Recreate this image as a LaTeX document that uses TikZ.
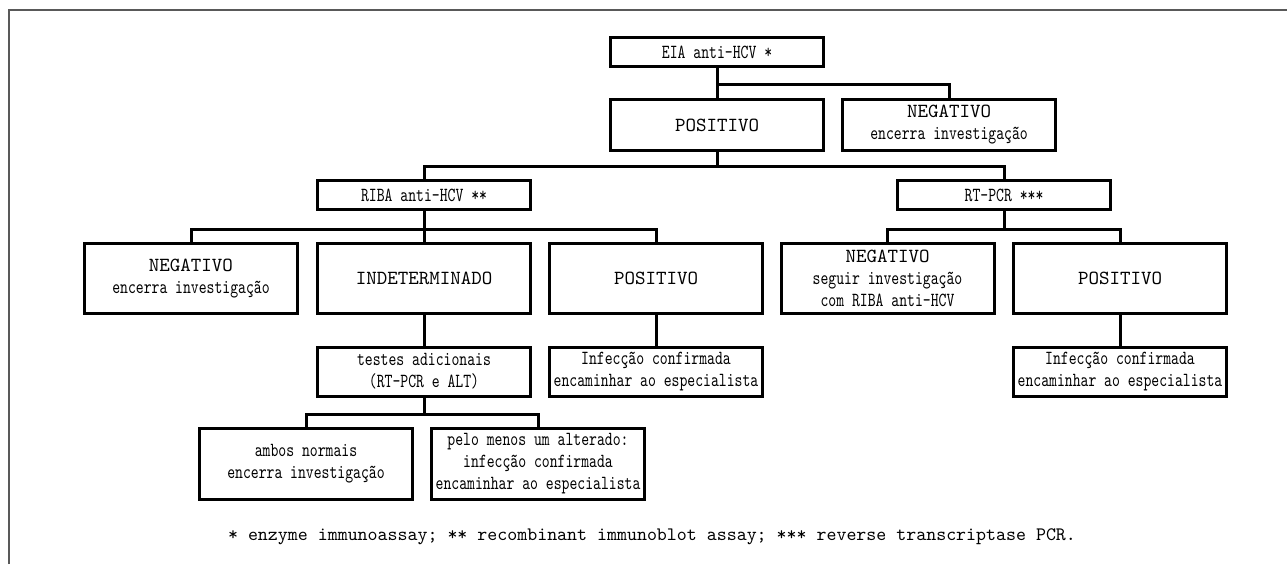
\documentclass[tikz,border=0pt]{standalone}
\usepackage{fontspec}
\setmainfont{lmmono10-regular.otf}
\newfontfamily\slimmono{lmmono10-regular.otf}[FakeStretch=0.75]

\begin{document}
\begin{tikzpicture}[x=0.5pt, y=-0.5pt,
  box/.style={draw, line width=1.5pt, minimum width=106.5pt, inner sep=0pt,
    align=center, font=\fontsize{10}{11}\selectfont},
  low/.style={box, minimum height=14.5pt},
  mid/.style={box, minimum height=25.5pt},
  half/.style={box, minimum height=24.5pt},
  high/.style={box, minimum height=35pt},
  link/.style={line width=1.5pt}]

  \useasboundingbox (0,0) rectangle (1287,564);

  % Outer frame
  \draw [black!65, line width=1pt] (9,564) -- (9,10) -- (1287,10);

  \node [low] (EIA) at (717,52) {\slimmono EIA anti-HCV *};
  \node [mid] (Pos) at (717,125) {POSITIVO};
  \node [mid] (Neg) at (949,125) {NEGATIVO\\\slimmono encerra investigação};

  \node [low] (Riba) at (424,195) {\slimmono RIBA anti-HCV **};
  \node [low] (RtPcr) at (1004,195) {\slimmono RT-PCR ***};

  \node [high] (RibaNeg) at (191,278.5) {NEGATIVO\\\slimmono encerra investigação};
  \node [high] (RibaInd) at (424,278.5) {INDETERMINADO};
  \node [high] (RibaPos) at (656,278.5) {POSITIVO};
  \node [high] (PcrNeg) at (887.5,278.5) {NEGATIVO\\\slimmono seguir investigação\\\slimmono com RIBA anti-HCV};
  \node [high] (PcrPos) at (1120,278.5) {POSITIVO};

  \node [half] (Extra) at (424,371.5) {\slimmono testes adicionais\\\slimmono (RT-PCR e ALT)};
  \node [half] (RibaConf) at (656,371.5) {\slimmono Infecção confirmada\\\slimmono encaminhar ao especialista};
  \node [half] (PcrConf) at (1120,371.5) {\slimmono Infecção confirmada\\\slimmono encaminhar ao especialista};

  \node [high, minimum height=35.5pt] (Normal) at (306,464) {\slimmono ambos normais\\\slimmono encerra investigação};
  \node [high, minimum height=35.5pt] (Altered) at (538,464) {\slimmono pelo menos um alterado:\\\slimmono infecção confirmada\\\slimmono encaminhar ao especialista};

  \node [font=\fontsize{9.5}{10}\selectfont] (Notes) at (652,537) {* enzyme immunoassay; ** recombinant immunoblot assay; *** reverse transcriptase PCR.};

  % Tree connectors
  \draw [link] (EIA) -- (Pos);
  \draw [link] (EIA.south) -- ++(0,16) -| (Neg.north);
  \draw [link] (Pos.south) -- ++(0,14) -| (Riba.north);
  \draw [link] (Pos.south) -- ++(0,14) -| (RtPcr.north);
  \draw [link] (Riba.south) -- ++(0,18) -| (RibaNeg.north);
  \draw [link] (Riba) -- (RibaInd);
  \draw [link] (Riba.south) -- ++(0,18) -| (RibaPos.north);
  \draw [link] (RtPcr.south) -- ++(0,18) -| (PcrNeg.north);
  \draw [link] (RtPcr.south) -- ++(0,18) -| (PcrPos.north);
  \draw [link] (RibaInd) -- (Extra);
  \draw [link] (RibaPos) -- (RibaConf);
  \draw [link] (PcrPos) -- (PcrConf);
  \draw [link] (Extra.south) -- ++(0,17) -| (Normal.north);
  \draw [link] (Extra.south) -- ++(0,17) -| (Altered.north);

\end{tikzpicture}
\end{document}
